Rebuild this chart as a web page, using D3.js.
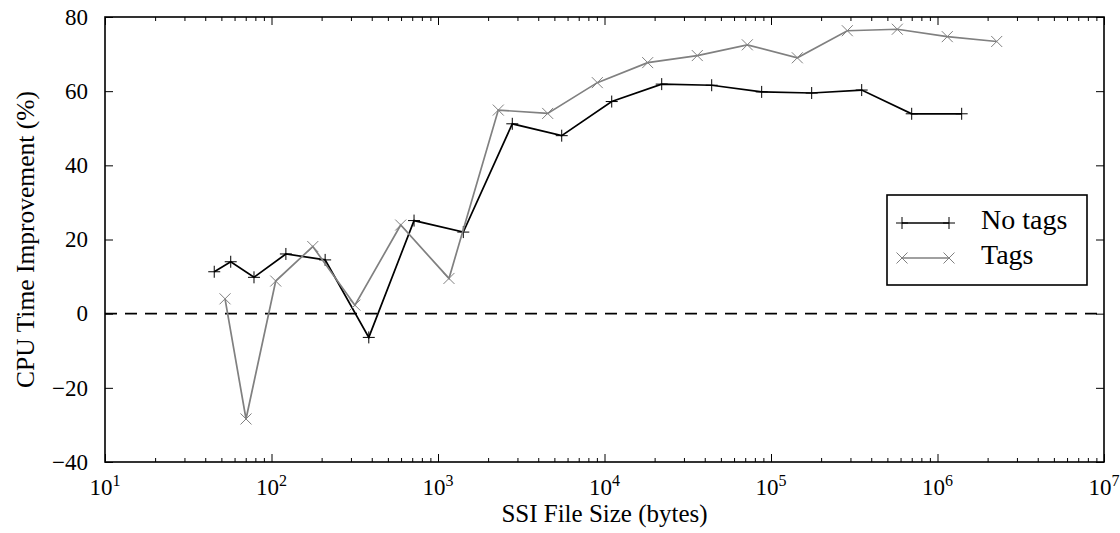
<!DOCTYPE html>
<html>
<head>
<meta charset="utf-8">
<script src="https://cdn.jsdelivr.net/npm/d3@7"></script>
<style>
  body { margin: 0; background: #fff; }
  svg { display: block; font-family: "Liberation Serif", "Times New Roman", serif; }
  .frame { fill: none; stroke: #000; stroke-width: 1.6; }
  .tick line { stroke: #000; stroke-width: 1; }
  .domain { display: none; }
</style>
</head>
<body>
<svg width="1120" height="533"></svg>
<script>
// file sizes (bytes) and CPU time improvement (%)
const noTagsSize = [45.3, 56.9, 78.5, 122, 210, 384, 718, 1419, 2794, 5534, 11050, 22060,
                    44040, 87900, 175500, 350500, 699800, 1397000];
const noTagsPct  = [11.3, 14.0, 9.8, 16.1, 14.5, -6.4, 25.1, 22.0, 51.2, 48.0, 57.2, 61.9,
                    61.6, 59.8, 59.5, 60.3, 53.9, 53.9];

const tagsSize = [52.6, 70.3, 106, 177, 317, 597, 1164, 2302, 4558, 9054, 18170, 36080,
                  72070, 143900, 287300, 573700, 1145000, 2268000];
const tagsPct  = [4.0, -28.4, 8.8, 18.1, 2.3, 23.9, 9.5, 54.9, 54.0, 62.3, 67.7, 69.6,
                  72.5, 69.0, 76.3, 76.7, 74.7, 73.4];

const xExponents = [1, 2, 3, 4, 5, 6, 7];
const yTicks = [-40, -20, 0, 20, 40, 60, 80];

const series = [
  { name: "No tags", size: noTagsSize, pct: noTagsPct, color: "#000", marker: "plus" },
  { name: "Tags", size: tagsSize, pct: tagsPct, color: "#808080", marker: "cross" }
];

const svg = d3.select("svg");
const margin = { top: 17, right: 16, bottom: 71, left: 105 };
const w = +svg.attr("width") - margin.left - margin.right;
const h = +svg.attr("height") - margin.top - margin.bottom;

const x = d3.scaleLog().domain([10, 1e7]).range([0, w]);
const y = d3.scaleLinear().domain([-40, 80]).range([h, 0]);

const g = svg.append("g")
  .attr("transform", `translate(${margin.left}, ${margin.top})`);

// minor ticks 2..9 x 10^k
const minorTicks = [];
xExponents.slice(0, -1).forEach(e => {
  for (let m = 2; m <= 9; m++) minorTicks.push(m * Math.pow(10, e));
});
const majorTicks = xExponents.map(e => Math.pow(10, e));

const addTicks = (axis, transform) => g.append("g")
  .attr("transform", transform)
  .call(axis)
  .call(s => s.select(".domain").remove());

addTicks(d3.axisBottom(x).tickValues(majorTicks).tickSize(-8).tickFormat(""), `translate(0, ${h})`);
addTicks(d3.axisBottom(x).tickValues(minorTicks).tickSize(-4).tickFormat(""), `translate(0, ${h})`);
addTicks(d3.axisTop(x).tickValues(majorTicks).tickSize(-8).tickFormat(""), "translate(0, 0)");
addTicks(d3.axisTop(x).tickValues(minorTicks).tickSize(-4).tickFormat(""), "translate(0, 0)");
addTicks(d3.axisLeft(y).tickValues(yTicks).tickSize(-8).tickFormat(""), "translate(0, 0)");
addTicks(d3.axisRight(y).tickValues(yTicks).tickSize(-8).tickFormat(""), `translate(${w}, 0)`);

// y tick labels
g.append("g").selectAll("text")
  .data(yTicks)
  .join("text")
    .attr("x", -17)
    .attr("y", d => y(d))
    .attr("dy", "0.34em")
    .attr("text-anchor", "end")
    .attr("font-size", 23)
    .text(d => d < 0 ? "\u2212" + Math.abs(d) : d);

// x tick labels as 10^e
const xl = g.append("g").selectAll("text")
  .data(xExponents)
  .join("text")
    .attr("x", d => x(Math.pow(10, d)))
    .attr("y", h + 33)
    .attr("text-anchor", "middle")
    .attr("font-size", 23);
xl.append("tspan").text("10");
xl.append("tspan")
  .attr("font-size", 16)
  .attr("dy", -9)
  .text(d => d);

// zero line
g.append("line")
  .attr("x1", 0).attr("x2", w)
  .attr("y1", y(0)).attr("y2", y(0))
  .attr("stroke", "#000")
  .attr("stroke-width", 1.8)
  .attr("stroke-dasharray", "12,8");

const line = d3.line()
  .x(d => x(d[0]))
  .y(d => y(d[1]));

const drawMarker = (sel, type, r) => {
  sel.attr("d", type === "plus"
    ? `M${-r},0H${r}M0,${-r}V${r}`
    : `M${-r},${-r}L${r},${r}M${-r},${r}L${r},${-r}`);
};

series.forEach(s => {
  const pts = s.size.map((v, i) => [v, s.pct[i]]);
  const sg = g.append("g");
  sg.append("path")
    .datum(pts)
    .attr("fill", "none")
    .attr("stroke", s.color)
    .attr("stroke-width", 1.7)
    .attr("d", line);
  sg.selectAll(".m")
    .data(pts)
    .join("path")
      .attr("class", "m")
      .attr("transform", d => `translate(${x(d[0])}, ${y(d[1])})`)
      .attr("stroke", s.color)
      .attr("stroke-width", 1)
      .attr("fill", "none")
      .call(drawMarker, s.marker, s.marker === "plus" ? 6 : 5.5);
});

// frame
g.append("rect")
  .attr("class", "frame")
  .attr("width", w)
  .attr("height", h);

// legend
const legend = svg.append("g").attr("transform", "translate(887, 195)");
legend.append("rect")
  .attr("width", 200).attr("height", 90)
  .attr("fill", "#fff").attr("stroke", "#000").attr("stroke-width", 1.6);
series.forEach((s, i) => {
  const ly = 28 + i * 35;
  legend.append("line")
    .attr("x1", 15).attr("x2", 62)
    .attr("y1", ly).attr("y2", ly)
    .attr("stroke", s.color).attr("stroke-width", 1.7);
  legend.selectAll(null)
    .data([15, 62])
    .join("path")
      .attr("transform", d => `translate(${d}, ${ly})`)
      .attr("stroke", s.color).attr("stroke-width", 1).attr("fill", "none")
      .call(drawMarker, s.marker, s.marker === "plus" ? 6 : 5.5);
  legend.append("text")
    .attr("x", 94).attr("y", ly + 6)
    .attr("font-size", 28)
    .text(s.name);
});

// axis titles
svg.append("text")
  .attr("x", margin.left + w / 2)
  .attr("y", 522)
  .attr("text-anchor", "middle")
  .attr("font-size", 25)
  .text("SSI File Size (bytes)");

svg.append("text")
  .attr("transform", `translate(34, ${margin.top + h / 2}) rotate(-90)`)
  .attr("text-anchor", "middle")
  .attr("font-size", 25.5)
  .text("CPU Time Improvement (%)");
</script>
</body>
</html>
